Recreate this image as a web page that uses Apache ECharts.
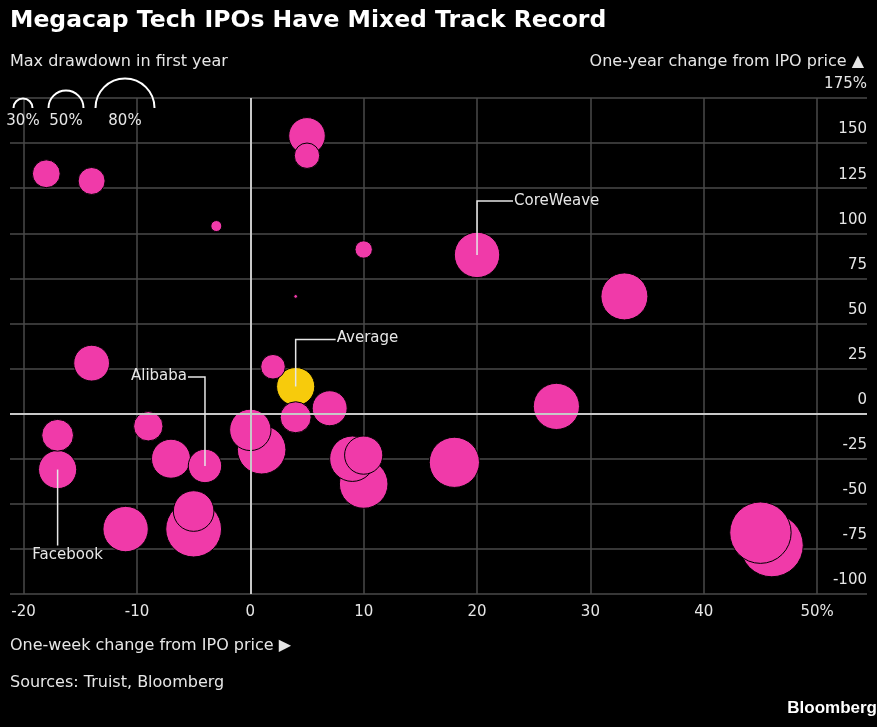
<!DOCTYPE html>
<html>
<head>
<meta charset="utf-8">
<script src="https://cdn.jsdelivr.net/npm/echarts@6/dist/echarts.min.js"></script>
<style>
	html, body { margin: 0; padding: 0; background: #000; }
	#container { width: 877px; height: 727px; }
</style>
</head>
<body>
<div id="container"></div>
<script>
// one-week change, one-year change, max drawdown in first year (%)
var weekChange = [5, 5, -18, -14, -3, 10, 4, -14, 2, 4, 7, 4, -9, -17, 0, 1, -7, -4, -17, 9, 10, 10, -11, -5, -5, 20, 33, 27, 18, 45, 46];
var yearChange = [154, 143, 133, 129, 104, 91, 65, 28, 26, 15, 3, -2, -7, -12, -9, -20, -25, -29, -31, -25, -23, -39, -64, -64, -54, 88, 65, 4, -27, -66, -73];
var drawdown = [52, 38, 41, 40, 20, 28, 11, 51, 37, 54, 50, 45, 43, 46, 58, 67, 55, 48, 54, 63, 54, 67, 63, 76, 57, 63, 65, 64, 69, 83, 85];
var names = ['', '', '', '', '', '', '', '', '', 'Average', '', '', '', '', '', '', '', 'Alibaba', 'Facebook', '', '', '', '', '', '', 'CoreWeave', '', '', '', '', ''];

var xTicks = [-20, -10, 0, 10, 20, 30, 40, 50];
var legendSizes = [30, 50, 80];

function radius(d) {
	return 0.4 * d - 2.5;
}

var dom = document.getElementById("container");
var myChart = echarts.init(dom);
var font = 'DejaVu Sans';
var textColor = '#e6e6e6';

var points = [];
for (var i = 0; i < weekChange.length; i++) {
	points.push({
		name: names[i],
		value: [weekChange[i], yearChange[i], drawdown[i]]
	});
}
// bigger bubbles underneath
points.sort(function(a, b) {
	return b.value[2] - a.value[2];
});

var option = {
	backgroundColor: '#000',
	animation: false,
	grid: {
		left: 10,
		right: 10,
		top: 98,
		bottom: 133
	},
	xAxis: {
		type: 'value',
		min: -21.2,
		max: 54.4,
		axisLine: { show: false },
		axisTick: { show: false, customValues: xTicks },
		axisLabel: {
			customValues: xTicks,
			color: textColor,
			fontFamily: font,
			fontSize: 15,
			margin: 11,
			formatter: function(v) {
				return v == 50 ? '50%' : String(v);
			}
		},
		splitLine: {
			show: true,
			lineStyle: { color: '#4a4a4a', width: 1.5 }
		}
	},
	yAxis: {
		type: 'value',
		position: 'right',
		min: -100,
		max: 175,
		interval: 25,
		axisLine: { show: false },
		axisTick: { show: false },
		axisLabel: {
			inside: true,
			margin: 0,
			color: textColor,
			fontFamily: font,
			fontSize: 15,
			verticalAlign: 'bottom',
			padding: [0, 0, 6, 0],
			formatter: function(v) {
				return v == 175 ? '175%' : String(v);
			}
		},
		splitLine: {
			show: true,
			lineStyle: { color: '#4a4a4a', width: 1.5 }
		}
	},
	series: [{
		type: 'scatter',
		z: 1,
		data: [],
		markLine: {
			silent: true,
			symbol: 'none',
			label: { show: false },
			lineStyle: { color: '#c8c8c8', width: 2, type: 'solid' },
			data: [{ xAxis: 0 }, { yAxis: 0 }]
		}
	}, {
		type: 'scatter',
		z: 3,
		data: points,
		symbolSize: function(val) {
			return 2 * radius(val[2]);
		},
		itemStyle: {
			color: function(p) {
				return p.name == 'Average' ? '#f7cb0c' : '#f03aa9';
			},
			borderColor: '#000',
			borderWidth: 1,
			opacity: 1
		}
	}]
};
myChart.setOption(option, true);

// texts, legend and callouts
var graphics = [];
function addText(x, y, text, opts) {
	opts = opts || {};
	graphics.push({
		type: 'text',
		x: x,
		y: y,
		z: 10,
		style: {
			text: text,
			fill: opts.fill || textColor,
			font: (opts.weight || 'normal') + ' ' + (opts.size || 15) + 'px "' + (opts.family || font) + '"',
			textAlign: opts.align || 'left',
			textVerticalAlign: 'middle'
		}
	});
}
addText(10, 21, 'Megacap Tech IPOs Have Mixed Track Record', { fill: '#fff', weight: 'bold', size: 23.5 });
addText(10, 62, 'Max drawdown in first year', { size: 16 });
addText(864, 62, 'One-year change from IPO price \u25B2', { align: 'right', size: 16 });
addText(10, 646, 'One-week change from IPO price \u25B6', { size: 16 });
addText(10, 683, 'Sources: Truist, Bloomberg', { size: 16 });
addText(877, 708, 'Bloomberg', { fill: '#fff', weight: 'bold', size: 17, family: 'Liberation Sans', align: 'right' });

var legendX = [23, 66, 125];
for (var k = 0; k < legendSizes.length; k++) {
	graphics.push({
		type: 'arc',
		z: 10,
		shape: { cx: legendX[k], cy: 108, r: radius(legendSizes[k]), startAngle: Math.PI, endAngle: 2 * Math.PI },
		style: { stroke: '#fff', lineWidth: 2, fill: null }
	});
	addText(legendX[k], 121, legendSizes[k] + '%', { align: 'center' });
}

function callout(name, path, textPos, align) {
	var idx = names.indexOf(name);
	var p = myChart.convertToPixel('grid', [weekChange[idx], yearChange[idx]]);
	var pts = [p];
	for (var j = 0; j < path.length; j++) {
		pts.push([p[0] + path[j][0], p[1] + path[j][1]]);
	}
	graphics.push({
		type: 'polyline',
		z: 10,
		shape: { points: pts },
		style: { stroke: '#e6e6e6', lineWidth: 1.5, fill: null }
	});
	addText(p[0] + textPos[0], p[1] + textPos[1], name, { align: align });
}
callout('CoreWeave', [[0, -54], [36, -54]], [37, -54], 'left');
callout('Average', [[0, -47], [40, -47]], [41, -48], 'left');
callout('Alibaba', [[0, -89], [-17, -89]], [-18, -90], 'right');
callout('Facebook', [[0, 76]], [10, 86], 'center');

myChart.setOption({ graphic: graphics });
</script>
</body>
</html>
